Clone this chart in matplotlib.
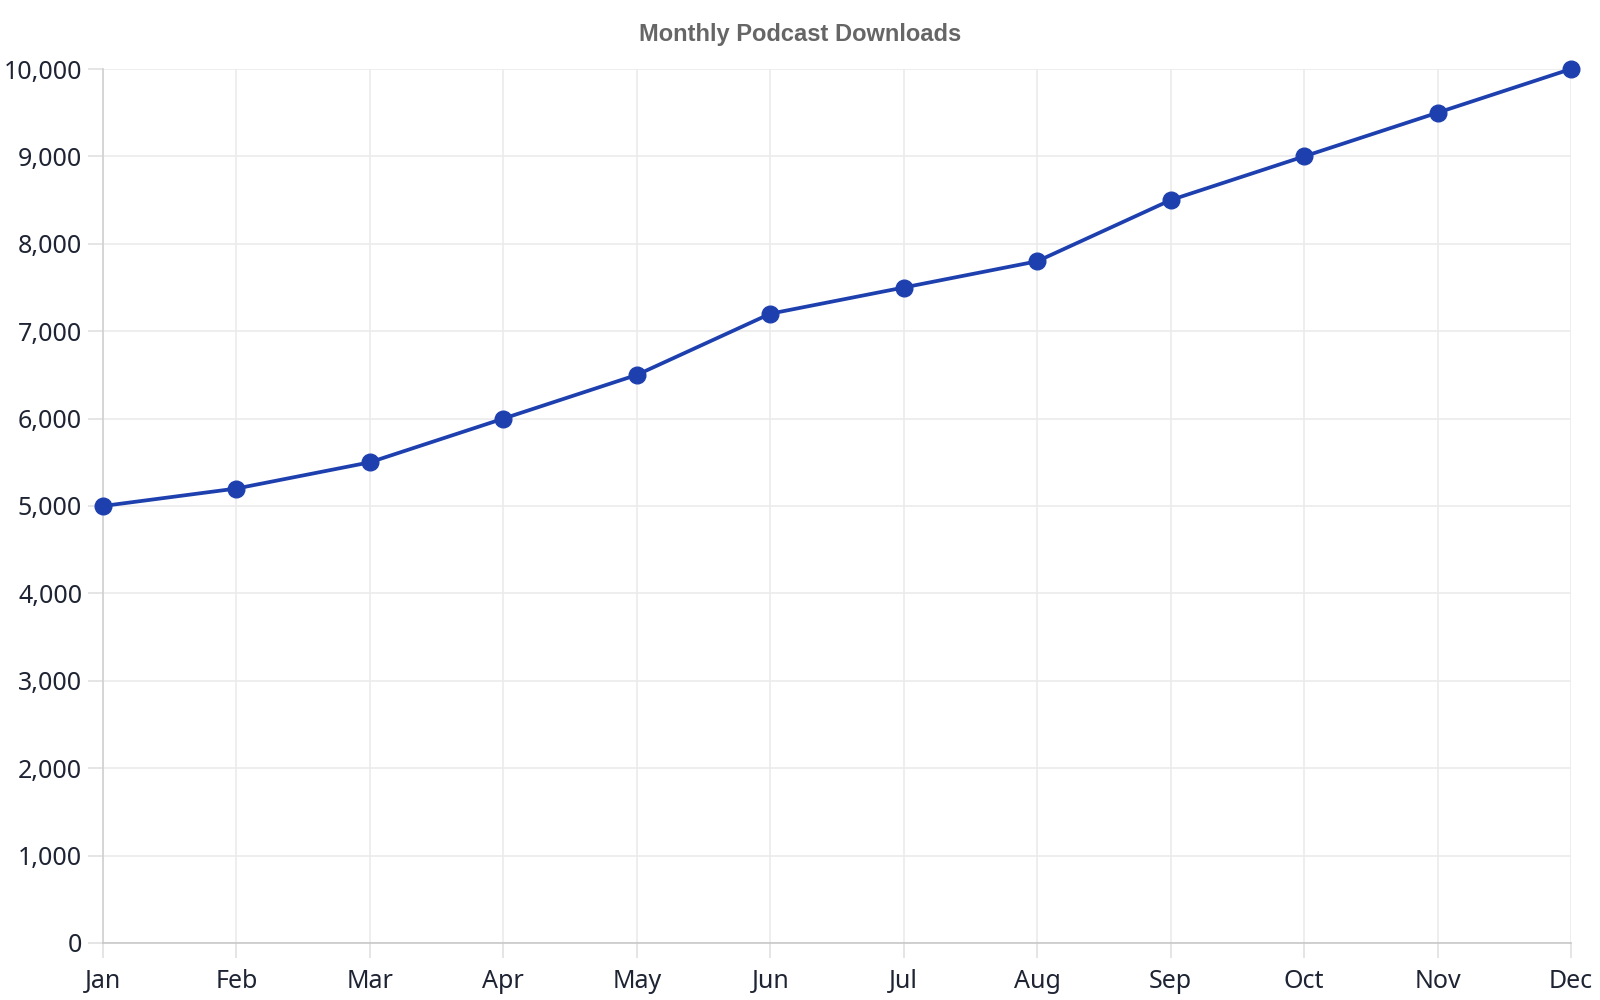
import matplotlib.pyplot as plt
from matplotlib.ticker import FuncFormatter

# Dados
months = ["Jan", "Feb", "Mar", "Apr", "May", "Jun", "Jul", "Aug", "Sep", "Oct", "Nov", "Dec"]
downloads = [5000, 5200, 5500, 6000, 6500, 7200, 7500, 7800, 8500, 9000, 9500, 10000]
y_ticks = [0, 1000, 2000, 3000, 4000, 5000, 6000, 7000, 8000, 9000, 10000]

line_color = "#1e40af"
text_color = "#1e2433"

fig = plt.figure(figsize=(16, 10), dpi=100)
ax = fig.add_axes([103 / 1600, 1 - 943 / 1000, (1571 - 103) / 1600, (943 - 69) / 1000])

x = list(range(len(months)))
ax.plot(x, downloads, color=line_color, linewidth=2.7, marker="o", markersize=12,
        zorder=3, clip_on=False)

ax.set_xlim(0, len(months) - 1)
ax.set_ylim(0, 10000)
ax.set_xticks(x)
ax.set_xticklabels(months)
ax.set_yticks(y_ticks)
ax.yaxis.set_major_formatter(FuncFormatter(lambda v, p: f"{int(v):,}"))

ax.grid(True, color="#ebebeb", linewidth=1.2)
ax.set_axisbelow(True)

for side in ["top", "right"]:
    ax.spines[side].set_visible(False)
ax.spines["left"].set_color("#d0d0d0")
ax.spines["bottom"].set_color("#c8c8c8")
ax.spines["left"].set_linewidth(1.2)
ax.spines["bottom"].set_linewidth(1.2)

ax.tick_params(axis="both", colors="#e0e0e0", labelcolor=text_color, labelsize=18,
               length=11, width=1.2)
ax.tick_params(axis="y", pad=4)
ax.tick_params(axis="x", pad=8)
for lbl in ax.get_xticklabels() + ax.get_yticklabels():
    lbl.set_fontfamily("Noto Sans")

fig.text(0.5, 1 - 35 / 1000, "Monthly Podcast Downloads", ha="center", va="center",
         fontsize=17, fontweight="bold", color="#666666", family="Liberation Sans")

fig.savefig("out.png")
